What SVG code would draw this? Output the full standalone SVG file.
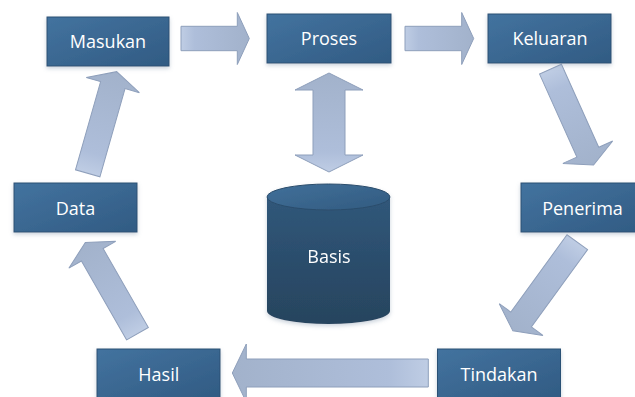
<svg xmlns="http://www.w3.org/2000/svg" width="635" height="397" viewBox="0 0 635 397">
<defs>
<linearGradient id="boxG" x1="0" y1="0" x2="1" y2="1">
<stop offset="0" stop-color="#43739f"/>
<stop offset="1" stop-color="#315b83"/>
</linearGradient>
<linearGradient id="arrG" x1="0" y1="0" x2="1" y2="0">
<stop offset="0" stop-color="#bfcde4"/>
<stop offset="0.2" stop-color="#aebeda"/>
<stop offset="1" stop-color="#a2b2cb"/>
</linearGradient>
<linearGradient id="cylG" x1="0" y1="0" x2="0" y2="1">
<stop offset="0" stop-color="#30577a"/>
<stop offset="1" stop-color="#27445e"/>
</linearGradient>
<linearGradient id="cylTop" x1="0" y1="0" x2="1" y2="1">
<stop offset="0" stop-color="#41709a"/>
<stop offset="1" stop-color="#325b80"/>
</linearGradient>
<filter id="sh" x="-10%" y="-10%" width="120%" height="140%">
<feDropShadow dx="0" dy="2" stdDeviation="2" flood-color="#8a9bb0" flood-opacity="0.45"/>
</filter>
</defs>
<style>
.box{fill:url(#boxG);stroke:#2b5175;stroke-width:1;filter:url(#sh)}
.lbl{font-family:"Open Sans","Liberation Sans",sans-serif;font-size:18px;fill:#ffffff;text-anchor:middle}
.arr{fill:url(#arrG);stroke:#8e9fbb;stroke-width:1;stroke-linejoin:miter}
</style>

<g id="connectors">
<polygon class="arr" transform="translate(181,38.5)" points="0,-12.2 56.3,-12.2 56.3,-26 68.3,0 56.3,26 56.3,12.2 0,12.2"/>
<polygon class="arr" transform="translate(405,38.5)" points="0,-12.2 56.7,-12.2 56.7,-26 68.7,0 56.7,26 56.7,12.2 0,12.2"/>
<polygon class="arr" transform="translate(550.5,69.2) rotate(65.8)" points="0,-12 91,-12 91,-27.3 105,0 91,27.3 91,12 0,12"/>
<polygon class="arr" transform="translate(577.3,242.2) rotate(126)" points="0,-12.7 95.6,-12.7 95.6,-27 109.6,0 95.6,27 95.6,12.7 0,12.7"/>
<polygon class="arr" transform="translate(428.3,373) rotate(180)" points="0,-14 182,-14 182,-29 196,0 182,29 182,14 0,14"/>
<polygon class="arr" transform="translate(137.5,333.7) rotate(-119.8)" points="0,-12.5 91,-12.5 91,-27 105,0 91,27 91,12.5 0,12.5"/>
<polygon class="arr" transform="translate(87.7,173.3) rotate(-74.1)" points="0,-12.7 91.7,-12.7 91.7,-27.6 105.7,0 91.7,27.6 91.7,12.7 0,12.7"/>
<polygon class="arr" transform="translate(329,172) rotate(-90)" points="0,0 17,-34 17,-16 82,-16 82,-34 99,0 82,34 82,16 17,16 17,34"/>
</g>

<g id="masukan"><rect class="box" x="47" y="17" width="122" height="49"/><text class="lbl" x="108" y="48">Masukan</text></g>
<g id="proses"><rect class="box" x="267" y="14" width="124" height="49"/><text class="lbl" x="329" y="45">Proses</text></g>
<g id="keluaran"><rect class="box" x="488" y="14" width="123" height="49"/><text class="lbl" x="550" y="45">Keluaran</text></g>
<g id="data"><rect class="box" x="14" y="183" width="123" height="49"/><text class="lbl" x="75.5" y="214.5">Data</text></g>
<g id="penerima"><rect class="box" x="521" y="183" width="123" height="49"/><text class="lbl" x="582.5" y="214.5">Penerima</text></g>
<g id="hasil"><rect class="box" x="97" y="349" width="123" height="49"/><text class="lbl" x="158.8" y="380.5">Hasil</text></g>
<g id="tindakan"><rect class="box" x="437.5" y="349" width="123" height="49"/><text class="lbl" x="499" y="380.5">Tindakan</text></g>

<g id="basis" filter="url(#sh)">
<path d="M267,197 L267,311 A61.5,13 0 0 0 390,311 L390,197 Z" fill="url(#cylG)"/>
<ellipse cx="328.5" cy="197" rx="61.5" ry="13" fill="url(#cylTop)" stroke="#2b4d6c" stroke-width="1"/>
<text class="lbl" x="329" y="263">Basis</text>
</g>
</svg>
